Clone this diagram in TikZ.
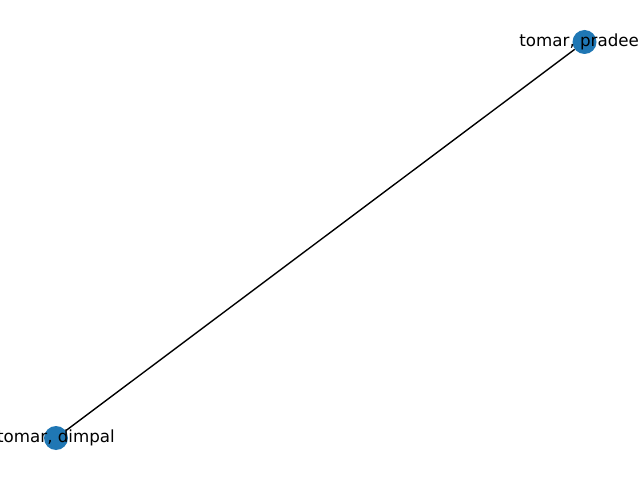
\documentclass[tikz,border=0pt]{standalone}
\usepackage{fontspec}
\setmainfont{DejaVu Sans}
\definecolor{nodeblue}{HTML}{1F77B4}
\tikzset{
  vertex/.style={circle, fill=nodeblue, draw=none, minimum size=24pt, inner sep=0pt},
  vlabel/.style={font=\fontsize{16.7pt}{20pt}\selectfont, inner sep=0pt, anchor=center},
  edge/.style={draw=black, line width=1.39pt}
}
\begin{document}
\begin{tikzpicture}[x=1pt,y=1pt]
\useasboundingbox (0,0) rectangle (640,480);
\clip (0,0) rectangle (640,480);
\fill[white] (0,0) rectangle (640,480);
\node[vertex] (p) at (584.5,438) {};
\node[vertex] (d) at (56,42) {};
\draw[edge] (p) -- (d);
\node[vlabel] (pl) at (584.5,438) {tomar, pradeep};
\node[vlabel] (dl) at (56,42) {tomar, dimpal};
\end{tikzpicture}
\end{document}
